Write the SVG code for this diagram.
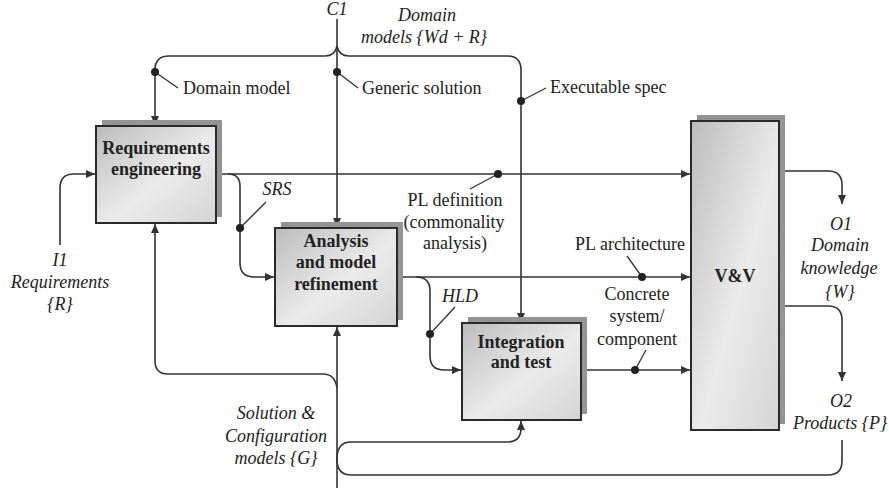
<svg xmlns="http://www.w3.org/2000/svg" width="889" height="488" viewBox="0 0 889 488">
<defs>
<linearGradient id="g" x1="0" y1="0" x2="1" y2="1">
<stop offset="0" stop-color="#bcbcbc"/>
<stop offset="0.55" stop-color="#ebebeb"/>
<stop offset="1" stop-color="#d4d4d4"/>
</linearGradient>
<marker id="ah" markerWidth="10" markerHeight="8" refX="9" refY="4" orient="auto" markerUnits="userSpaceOnUse">
<path d="M0,0 L9,4 L0,8 Z" fill="#333"/>
</marker>
</defs>

<g id="connectors" fill="none" stroke="#333" stroke-width="1.6">
<path marker-end="url(#ah)" d="M337,19 V227"/>
<path d="M337,46 Q335,56 325,56 H169 Q155,56 155,70"/>
<path marker-end="url(#ah)" d="M155,70 V125"/>
<path d="M337,46 Q339,56 349,56 H507 Q521,56 521,70"/>
<path marker-end="url(#ah)" d="M521,70 V322"/>
<path stroke-width="1.3" d="M155,72 L178,88 M337,72 L358,88 M521,101 L546,88"/>
<path marker-end="url(#ah)" d="M216,174 H690"/>
<path stroke-width="1.3" d="M498,174 L470,189"/>
<path marker-end="url(#ah)" d="M228,174 Q240,174 240,186 V263 Q240,277 254,277 H274"/>
<path stroke-width="1.3" d="M240,228 L266,202"/>
<path marker-end="url(#ah)" d="M60,245 V188 Q60,174 74,174 H95"/>
<path marker-end="url(#ah)" d="M337,388 Q335,374 323,374 H168 Q155,374 155,361 V224"/>
<path marker-end="url(#ah)" d="M337,488 V327"/>
<path marker-end="url(#ah)" d="M397,277 H690"/>
<path stroke-width="1.3" d="M642,277 L627,256"/>
<path marker-end="url(#ah)" d="M416,277 Q430,277 430,291 V356 Q430,370 444,370 H461"/>
<path stroke-width="1.3" d="M430,334 L455,307"/>
<path marker-end="url(#ah)" d="M581,370 H690"/>
<path stroke-width="1.3" d="M635,370 L646,350"/>
<path marker-end="url(#ah)" d="M779,171 H828 Q842,171 842,185 V204"/>
<path marker-end="url(#ah)" d="M779,306 H828 Q842,306 842,320 V381"/>
<path marker-end="url(#ah)" d="M842,440 V461 Q842,475 828,475 H351 Q337,475 337,459 Q337,442 351,442 H507 Q521,442 521,428 V421"/>
<g fill="#222" stroke="none">
<circle cx="155" cy="72" r="4"/>
<circle cx="337" cy="72" r="4"/>
<circle cx="521" cy="101" r="4"/>
<circle cx="498" cy="174" r="4"/>
<circle cx="240" cy="228" r="4"/>
<circle cx="642" cy="277" r="4"/>
<circle cx="430" cy="334" r="4"/>
<circle cx="635" cy="370" r="4"/>
</g>
</g>

<g id="req">
<rect x="102" y="120" width="120" height="97" fill="#949494"/>
<rect x="96" y="126" width="120" height="97" fill="url(#g)" stroke="#2a2a2a" stroke-width="2"/>
<text x="156" y="154" font-family="Liberation Serif" font-size="18" font-weight="bold" text-anchor="middle" fill="#222">Requirements</text>
<text x="156" y="175" font-family="Liberation Serif" font-size="18" font-weight="bold" text-anchor="middle" fill="#222">engineering</text>
</g>
<g id="analysis">
<rect x="281" y="222" width="122" height="98" fill="#949494"/>
<rect x="275" y="228" width="122" height="98" fill="url(#g)" stroke="#2a2a2a" stroke-width="2"/>
<text x="336" y="247" font-family="Liberation Serif" font-size="18" font-weight="bold" text-anchor="middle" fill="#222">Analysis</text>
<text x="336" y="268" font-family="Liberation Serif" font-size="18" font-weight="bold" text-anchor="middle" fill="#222">and model</text>
<text x="336" y="290" font-family="Liberation Serif" font-size="18" font-weight="bold" text-anchor="middle" fill="#222">refinement</text>
</g>
<g id="integration">
<rect x="468" y="317" width="119" height="97" fill="#949494"/>
<rect x="462" y="323" width="119" height="97" fill="url(#g)" stroke="#2a2a2a" stroke-width="2"/>
<text x="521" y="348" font-family="Liberation Serif" font-size="18" font-weight="bold" text-anchor="middle" fill="#222">Integration</text>
<text x="521" y="368" font-family="Liberation Serif" font-size="18" font-weight="bold" text-anchor="middle" fill="#222">and test</text>
</g>
<g id="vv">
<rect x="697" y="115" width="88" height="309" fill="#949494"/>
<rect x="691" y="121" width="88" height="309" fill="url(#g)" stroke="#2a2a2a" stroke-width="2"/>
<text x="735" y="282" font-family="Liberation Serif" font-size="18" font-weight="bold" text-anchor="middle" fill="#222">V&amp;V</text>
</g>

<g id="labels">
<text x="337" y="15" font-family="Liberation Serif" font-size="18" font-style="italic" text-anchor="middle" fill="#222">C1</text>
<text x="427" y="21" font-family="Liberation Serif" font-size="18" font-style="italic" text-anchor="middle" fill="#222">Domain</text>
<text x="424" y="43" font-family="Liberation Serif" font-size="18" font-style="italic" text-anchor="middle" fill="#222">models {Wd + R}</text>
<text x="183" y="94" font-family="Liberation Serif" font-size="18" fill="#222">Domain model</text>
<text x="362" y="94" font-family="Liberation Serif" font-size="18" fill="#222">Generic solution</text>
<text x="550" y="93" font-family="Liberation Serif" font-size="18" fill="#222">Executable spec</text>
<text x="277" y="195" font-family="Liberation Serif" font-size="18" font-style="italic" text-anchor="middle" fill="#222">SRS</text>
<text x="455" y="206" font-family="Liberation Serif" font-size="18" text-anchor="middle" fill="#222">PL definition</text>
<text x="454" y="228" font-family="Liberation Serif" font-size="18" text-anchor="middle" fill="#222">(commonality</text>
<text x="455" y="249" font-family="Liberation Serif" font-size="18" text-anchor="middle" fill="#222">analysis)</text>
<text x="60" y="266" font-family="Liberation Serif" font-size="18" font-style="italic" text-anchor="middle" fill="#222">I1</text>
<text x="60" y="288" font-family="Liberation Serif" font-size="18" font-style="italic" text-anchor="middle" fill="#222">Requirements</text>
<text x="60" y="310" font-family="Liberation Serif" font-size="18" font-style="italic" text-anchor="middle" fill="#222">{R}</text>
<text x="630" y="250" font-family="Liberation Serif" font-size="18" text-anchor="middle" fill="#222">PL architecture</text>
<text x="460" y="302" font-family="Liberation Serif" font-size="18" font-style="italic" text-anchor="middle" fill="#222">HLD</text>
<text x="637" y="300" font-family="Liberation Serif" font-size="18" text-anchor="middle" fill="#222">Concrete</text>
<text x="637" y="322" font-family="Liberation Serif" font-size="18" text-anchor="middle" fill="#222">system/</text>
<text x="637" y="345" font-family="Liberation Serif" font-size="18" text-anchor="middle" fill="#222">component</text>
<text x="841" y="230" font-family="Liberation Serif" font-size="18" font-style="italic" text-anchor="middle" fill="#222">O1</text>
<text x="840" y="251" font-family="Liberation Serif" font-size="18" font-style="italic" text-anchor="middle" fill="#222">Domain</text>
<text x="839" y="274" font-family="Liberation Serif" font-size="18" font-style="italic" text-anchor="middle" fill="#222">knowledge</text>
<text x="840" y="298" font-family="Liberation Serif" font-size="18" font-style="italic" text-anchor="middle" fill="#222">{W}</text>
<text x="841" y="407" font-family="Liberation Serif" font-size="18" font-style="italic" text-anchor="middle" fill="#222">O2</text>
<text x="840" y="429" font-family="Liberation Serif" font-size="18" font-style="italic" text-anchor="middle" fill="#222">Products {P}</text>
<text x="276" y="419" font-family="Liberation Serif" font-size="18" font-style="italic" text-anchor="middle" fill="#222">Solution &amp;</text>
<text x="276" y="442" font-family="Liberation Serif" font-size="18" font-style="italic" text-anchor="middle" fill="#222">Configuration</text>
<text x="276" y="464" font-family="Liberation Serif" font-size="18" font-style="italic" text-anchor="middle" fill="#222">models {G}</text>
</g>
</svg>
